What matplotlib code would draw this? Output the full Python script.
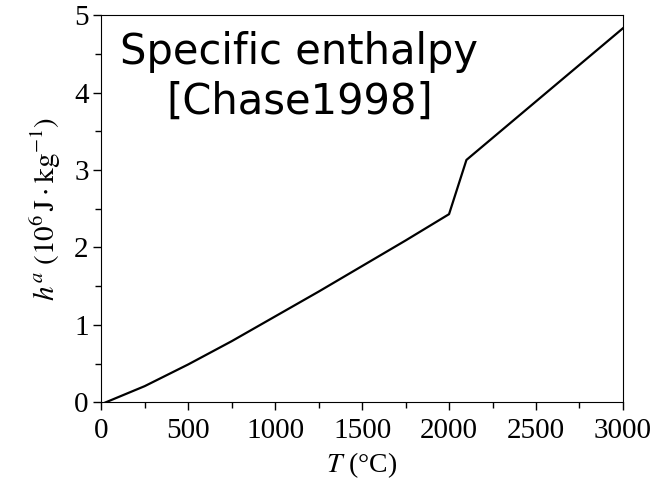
import numpy as np
import matplotlib.pyplot as plt
from matplotlib.ticker import MultipleLocator

# specific enthalpy vs temperature
T = [25, 250, 500, 750, 1000, 1250, 1500, 1750, 2000, 2100, 3000]
h = [0.0, 0.21, 0.49, 0.79, 1.11, 1.43, 1.76, 2.09, 2.43, 3.13, 4.83]

x_ticks = [0, 500, 1000, 1500, 2000, 2500, 3000]
y_ticks = [0, 1, 2, 3, 4, 5]

plt.rcParams['font.family'] = ['Liberation Serif', 'DejaVu Serif']
plt.rcParams['mathtext.fontset'] = 'stix'

fig, ax = plt.subplots(figsize=(6.53, 4.86), dpi=100)
fig.subplots_adjust(left=0.155, right=0.954, top=0.969, bottom=0.172)

ax.plot(T, h, color='black', lw=1.6)

ax.set_xlim(0, 3000)
ax.set_ylim(0, 5)
ax.set_xticks(x_ticks)
ax.set_yticks(y_ticks)
ax.xaxis.set_minor_locator(MultipleLocator(250))
ax.yaxis.set_minor_locator(MultipleLocator(0.5))
ax.tick_params(which='both', direction='out', labelsize=21, width=1.0)
ax.tick_params(which='major', length=6)
ax.tick_params(which='minor', length=4)
ax.tick_params(axis='x', pad=5)
ax.tick_params(axis='y', pad=3)

ax.set_xlabel(r'$T$ (°C)', fontsize=20, labelpad=5)
ax.set_ylabel(r'$h^a\ (10^6\,\mathrm{J\cdot kg^{-1}})$', fontsize=21, labelpad=8)

ax.text(0.38, 0.958, 'Specific enthalpy\n[Chase1998]', transform=ax.transAxes,
        ha='center', va='top', fontsize=30, family='DejaVu Sans',
        linespacing=1.22)

fig.savefig('out.png', dpi=100)
